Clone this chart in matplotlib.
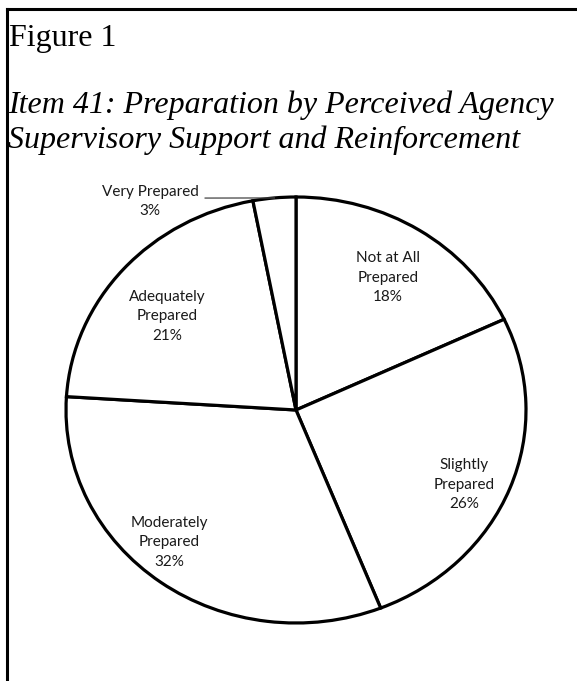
import numpy as np
import matplotlib
matplotlib.use("Agg")
import matplotlib.pyplot as plt
from matplotlib.lines import Line2D

labels = ["Not at All\nPrepared", "Slightly\nPrepared", "Moderately\nPrepared",
          "Adequately\nPrepared", "Very Prepared"]
pcts = [18, 26, 32, 21, 3]

# where excel put each label (axes data coords, pie radius = 1)
label_xy = [(0.40, 0.62), (0.73, -0.35), (-0.55, -0.62), (-0.56, 0.44), (-0.635, 0.98)]

fig = plt.figure(figsize=(5.77, 6.81), dpi=100)
W, H = 577, 681

# page border (top + left only)
fig.add_artist(Line2D([7 / W, 1.0], [1 - 8.5 / H, 1 - 8.5 / H], color="black", lw=2.2,
                      transform=fig.transFigure))
fig.add_artist(Line2D([7 / W, 7 / W], [0, 1 - 8.5 / H], color="black", lw=2.2,
                      transform=fig.transFigure))

fig.text(9 / W, 1 - 46 / H, "Figure 1", family="Liberation Serif", fontsize=23,
         va="baseline", ha="left")
fig.text(8 / W, 1 - 113 / H, "Item 41: Preparation by Perceived Agency",
         family="Liberation Serif", style="italic", fontsize=23, va="baseline", ha="left")
fig.text(8 / W, 1 - 148 / H, "Supervisory Support and Reinforcement",
         family="Liberation Serif", style="italic", fontsize=23, va="baseline", ha="left")

# pie axes: ellipse spans x 66..526, y 197..623 px
ax = fig.add_axes([66 / W, (H - 623) / H, 460 / W, 426 / H])
wedges, _ = ax.pie(pcts, startangle=90, counterclock=False,
                   colors=["white"] * len(pcts),
                   wedgeprops=dict(edgecolor="black", linewidth=2.3))
ax.set_aspect("auto")
ax.set_xlim(-1, 1)
ax.set_ylim(-1, 1)
ax.axis("off")

for w, lab, p, (x, y) in zip(wedges, labels, pcts, label_xy):
    ax.text(x, y, f"{lab}\n{p}%", ha="center", va="center", fontsize=11,
            family="Lato", color="#1a1a1a", linespacing=1.5)

# leader line for the small slice
w = wedges[-1]
mid = np.deg2rad((w.theta1 + w.theta2) / 2)
ax.plot([-0.395, np.cos(mid)], [0.995, np.sin(mid)], color="#444444", lw=0.9,
        clip_on=False)

fig.savefig("out.png", dpi=100, facecolor="white")
